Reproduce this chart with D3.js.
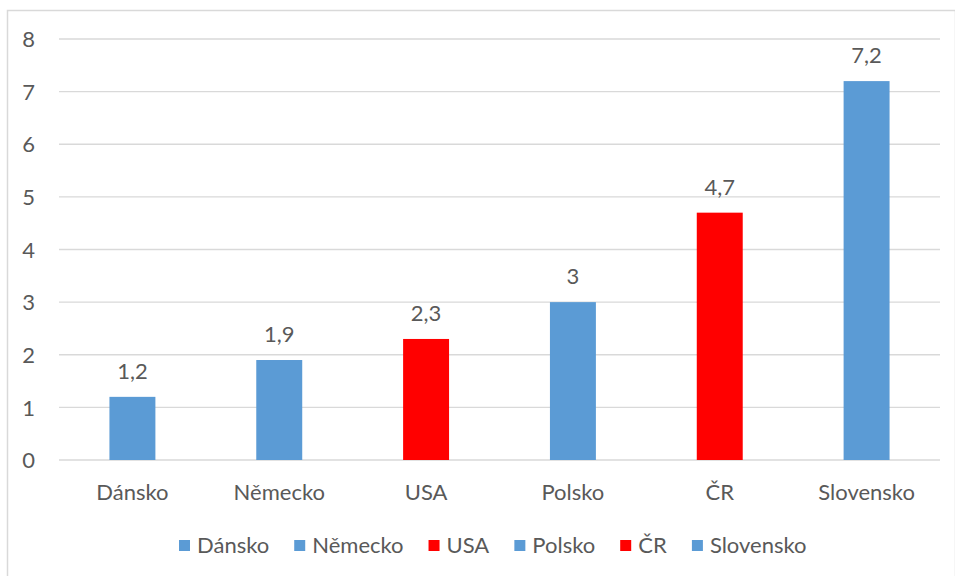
<!DOCTYPE html>
<html>
<head>
<meta charset="utf-8">
<script src="https://cdn.jsdelivr.net/npm/d3@7"></script>
<style>
  html, body { margin: 0; padding: 0; background: #fff; }
  svg text { font-family: Lato, "Open Sans", sans-serif; fill: #595959; }
</style>
</head>
<body>
<svg id="chart" width="955" height="576"></svg>
<script>
// Country names, values and bar colours
const categories = ["Dánsko", "Německo", "USA", "Polsko", "ČR", "Slovensko"];
const values = [1.2, 1.9, 2.3, 3, 4.7, 7.2];
const colors = ["#5b9bd5", "#5b9bd5", "#ff0000", "#5b9bd5", "#ff0000", "#5b9bd5"];
const yTicks = [0, 1, 2, 3, 4, 5, 6, 7, 8];

const FONT = 'Lato, "Open Sans", sans-serif';
const FS = 22;

const svg = d3.select("#chart");
const W = 955, H = 576;
const margin = { left: 59, right: 15, top: 39, bottom: 116 };

// chart frame
svg.append("rect")
  .attr("x", 7.5).attr("y", 10.5)
  .attr("width", W - 7).attr("height", H)
  .attr("fill", "#fff").attr("stroke", "#d9d9d9").attr("stroke-width", 1.5);

const x = d3.scaleBand()
  .domain(categories)
  .range([margin.left, W - margin.right])
  .paddingInner(0.687).paddingOuter(0.3435);

const y = d3.scaleLinear()
  .domain([0, 8])
  .range([H - margin.bottom, margin.top]);

// gridlines
svg.append("g")
  .selectAll("line")
  .data(yTicks)
  .join("line")
  .attr("x1", margin.left).attr("x2", W - margin.right)
  .attr("y1", d => y(d)).attr("y2", d => y(d))
  .attr("stroke", "#d9d9d9").attr("stroke-width", 1.3);

// y axis labels
const yAxis = d3.axisLeft(y).tickValues(yTicks).tickSize(0).tickPadding(0).tickFormat(d3.format("d"));
const yg = svg.append("g").attr("transform", `translate(${margin.left - 24},0)`).call(yAxis);
yg.select(".domain").remove();
yg.selectAll("text").attr("font-size", FS).attr("dy", "0.35em")
  .style("font-family", FONT).attr("fill", "#595959");

// x axis labels
const xAxis = d3.axisBottom(x).tickSize(0).tickPadding(0);
const xg = svg.append("g").attr("transform", `translate(0,${y(0)})`).call(xAxis);
xg.select(".domain").remove();
xg.selectAll("text").attr("font-size", FS).attr("dy", 0).attr("y", 40)
  .style("font-family", FONT).attr("fill", "#595959");

// bars
svg.append("g")
  .selectAll("rect")
  .data(values)
  .join("rect")
  .attr("x", (d, i) => x(categories[i]))
  .attr("y", d => y(d))
  .attr("width", x.bandwidth())
  .attr("height", d => y(0) - y(d))
  .attr("fill", (d, i) => colors[i]);

// value labels
const fmt = d => String(d).replace(".", ",");
svg.append("g")
  .selectAll("text")
  .data(values)
  .join("text")
  .attr("x", (d, i) => x(categories[i]) + x.bandwidth() / 2)
  .attr("y", d => y(d) - 18)
  .attr("text-anchor", "middle")
  .attr("font-size", FS)
  .text(fmt);

// legend
const legend = svg.append("g");
const items = legend.selectAll("g")
  .data(categories)
  .join("g");
items.append("rect")
  .attr("width", 11).attr("height", 11)
  .attr("y", -13)
  .attr("fill", (d, i) => colors[i]);
items.append("text")
  .attr("x", 18).attr("y", 0)
  .attr("font-size", FS)
  .text(d => d);
let widths = [];
items.each(function () { widths.push(this.getBBox().width); });
const gap = 25;
let cx = 179;
items.attr("transform", (d, i) => {
  const t = `translate(${cx},553)`;
  cx += widths[i] + gap;
  return t;
});
</script>
</body>
</html>
